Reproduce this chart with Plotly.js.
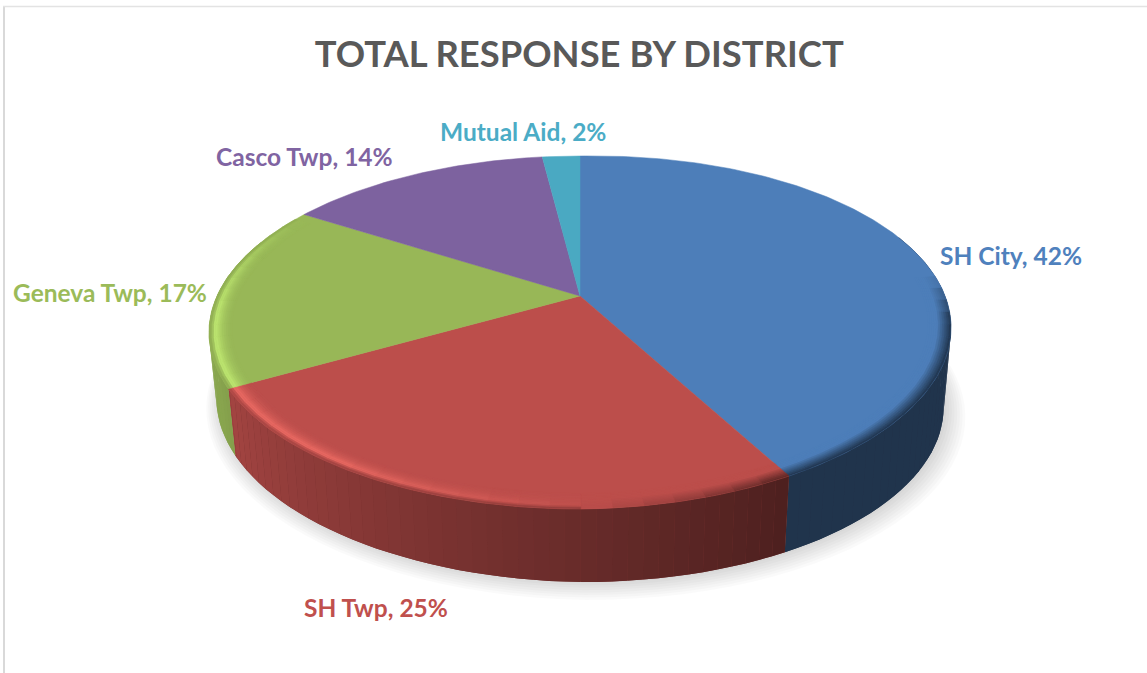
<!DOCTYPE html>
<html><head><meta charset="utf-8">
<script src="https://cdn.plot.ly/plotly-3.0.1.min.js"></script>
<style>html,body{margin:0;padding:0;background:#fff}#c{width:1147px;height:673px}</style>
</head><body><div id="c"></div>
<script>
const categories = ["SH City", "SH Twp", "Geneva Twp", "Casco Twp", "Mutual Aid"];
const shares = [42.2, 24.6, 17.2, 14, 2];
const sliceColors = [[79,129,189],[192,80,77],[155,187,89],[128,100,162],[75,172,198]];
const labelColors = ["#4f81bd","#c0504d","#9bbb59","#8064a2","#4bacc6"];
const labelX = [1011, 376, 110, 304, 523];
const labelY = [255, 607, 292, 156, 131];
const chartTitle = "TOTAL RESPONSE BY DISTRICT";

// Tilted-disc projection of the pie (axes are in page pixels).
const CX = 580, CY = 296, A = 168.95, B = 363, K = 0.2068, LIFT = 5;
const rad = d => d * Math.PI / 180;
function topPt(t, r = 1) {
  const s = Math.sin(rad(t)), c = Math.cos(rad(t)), d = 1 + K * r * c;
  return [CX + B * r * s / d, CY - A * r * c / d - (s > 0 ? LIFT * r * s : 0)];
}
function bottomPt(t, r = 1) {
  const p = topPt(t, r);
  return [CX + (p[0] - CX) * 0.98, p[1] + 73 + 7 * Math.sin(rad(t))];
}
const rgb = c => `rgb(${c.map(v => Math.round(Math.max(0, Math.min(255, v)))).join(",")})`;
const mix = (a, b, f) => a.map((v, i) => v + (b[i] - v) * f);
const scale = (c, f) => c.map(v => v * f);
function range(a, b, step) {
  const out = [];
  for (let t = a; t < b - 1e-6; t += step) out.push(t);
  out.push(b);
  return out;
}
function poly(pts, fill, lineWidth) {
  const xs = pts.map(p => p[0]), ys = pts.map(p => p[1]);
  xs.push(xs[0]); ys.push(ys[0]);
  return { type: "scatter", mode: "lines", x: xs, y: ys, fill: "toself", fillcolor: fill,
           line: { color: fill, width: lineWidth || 0 }, hoverinfo: "skip", showlegend: false };
}

const total = shares.reduce((a, b) => a + b, 0);
const slices = [];
let acc = 0;
shares.forEach((v, i) => {
  const a = acc / total * 360; acc += v;
  slices.push({ a, b: acc / total * 360, color: sliceColors[i] });
});

const traces = [];

// soft shadow under the disc
for (let i = 7; i >= 0; i--) {
  const r = 1 + i * 0.006;
  const pts = range(0, 360, 3).map(t => {
    const p = bottomPt(t, r);
    return [p[0] + 3 + i * 0.4, p[1] + 1 + i * 0.8];
  });
  traces.push(poly(pts, "rgba(0,0,0,0.02)"));
}

// side wall, as narrow strips shaded by angle, over a solid underlay
const wallShade = t => Math.max(0.4, Math.min(0.88, 0.4 + (t - 152) / 90 * 0.46));
slices.forEach(s => {
  const a = Math.max(s.a, 70), b = Math.min(s.b, 290);
  if (a >= b) return;
  const ts = range(a, b, 2);
  const m = (a + b) / 2;
  traces.push(poly(ts.map(t => topPt(t)).concat(ts.slice().reverse().map(t => bottomPt(t))),
                   rgb(scale(s.color, wallShade(m)))));
  for (let i = 0; i < ts.length - 1; i++) {
    const c = rgb(scale(s.color, wallShade((ts[i] + ts[i + 1]) / 2)));
    traces.push(poly([topPt(ts[i]), topPt(ts[i + 1]), bottomPt(ts[i + 1]), bottomPt(ts[i])], c));
  }
});

// top face
slices.forEach(s => {
  const pts = [[CX, CY]].concat(range(s.a, s.b, 1).map(t => topPt(t)));
  traces.push(poly(pts, rgb(scale(s.color, 0.98)), 0.5));
});

// bevel along the front rim
const ringCount = 11, ringDepth = 0.06;
function rimLight(t) {
  if (t <= 85) return 0;
  if (t < 100) return -(t - 85) / 15;
  if (t < 150) return -1;
  if (t < 185) return -1 + (t - 150) / 35 * 1.2;
  if (t < 215) return 0.2 + (t - 185) / 30 * 0.8;
  if (t < 265) return 1;
  if (t < 300) return 1 - (t - 265) / 35;
  return 0;
}
slices.forEach(s => {
  const a = Math.max(s.a, 85), b = Math.min(s.b, 300);
  if (a >= b) return;
  const base = scale(s.color, 0.98);
  const bright = base.map((v, n) => Math.min(255, v * 1.22 + (n === 1 ? 12 : 8)));
  const ts = range(a, b, 4);
  for (let i = 0; i < ts.length - 1; i++) {
    const tm = (ts[i] + ts[i + 1]) / 2, h = rimLight(tm);
    const wall = scale(s.color, wallShade(tm));
    // inner rings first, so each outer ring cleanly overlaps the one inside it
    for (let j = ringCount - 1; j >= 0; j--) {
      const u = (j + 0.5) / ringCount;
      let c;
      if (h >= 0) {
        const amt = u < 0.25 ? u / 0.25 : Math.max(0, 1 - (u - 0.25) / 0.75);
        c = mix(base, bright, amt * amt * h);
        if (u < 0.18) c = mix(c, wall, (0.18 - u) / 0.18 * 0.6);
      } else {
        const amt = Math.max(0, 1 - u / 0.6);
        c = mix(base, wall, amt * -h);
      }
      const r1 = 1 - j / ringCount * ringDepth, r2 = 1 - (j + 1) / ringCount * ringDepth;
      traces.push(poly([topPt(ts[i], r1), topPt(ts[i + 1], r1),
                        topPt(ts[i + 1], r2), topPt(ts[i], r2)], rgb(c), 0.5));
    }
  }
});

const annotations = categories.map((c, i) => ({
  x: labelX[i], y: labelY[i], xref: "x", yref: "y", showarrow: false,
  xanchor: "center", yanchor: "middle",
  text: `${c}, ${Math.round(shares[i])}%`,
  font: { family: "Lato, 'Open Sans', sans-serif", size: 24.5, color: labelColors[i], weight: 700 }
}));

const layout = {
  width: 1147, height: 673,
  margin: { l: 0, r: 0, t: 0, b: 0 },
  paper_bgcolor: "#fff", plot_bgcolor: "#fff",
  showlegend: false,
  title: { text: "<b>" + chartTitle + "</b>", x: 0.505, xanchor: "center", y: 1 - 54 / 673, yanchor: "middle",
           font: { family: "Lato, 'Open Sans', sans-serif", size: 36.4, color: "#595959" } },
  xaxis: { range: [0, 1147], visible: false, fixedrange: true },
  yaxis: { range: [673, 0], visible: false, fixedrange: true },
  annotations,
  shapes: [
    { type: "line", xref: "x", yref: "y", x0: 4, x1: 4, y0: 6, y1: 673, line: { color: "#d9d9d9", width: 2 } },
    { type: "line", xref: "x", yref: "y", x0: 3, x1: 1147, y0: 6.5, y1: 6.5, line: { color: "#e3e3e3", width: 1.5 } }
  ]
};
Plotly.newPlot("c", traces, layout, { displayModeBar: false, staticPlot: true });
</script></body></html>
